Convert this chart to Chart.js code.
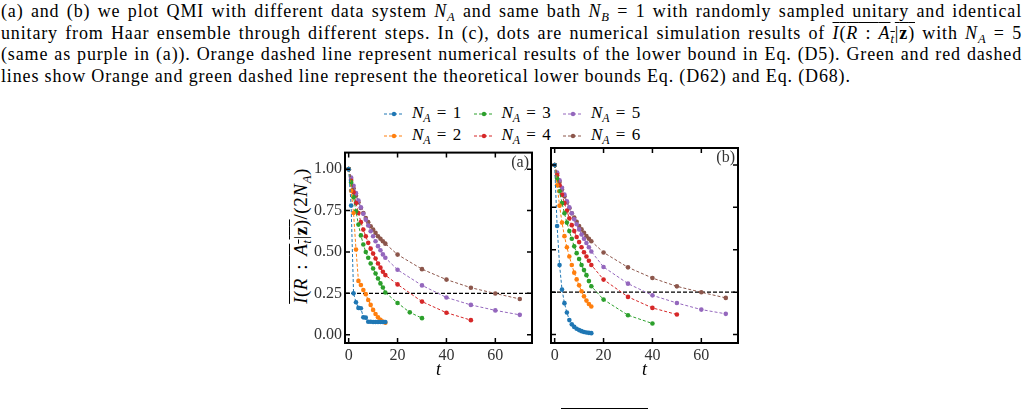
<!DOCTYPE html>
<html>
<head>
<meta charset="utf-8">
<script src="https://cdn.jsdelivr.net/npm/chart.js@4.4.0/dist/chart.umd.min.js"></script>
<style>
  body { margin: 0; background: #fff; width: 1028px; height: 413px; overflow: hidden; position: relative;
         font-family: "Liberation Serif", serif; color: #000; }
  .cap { position: absolute; left: 1px; width: 1021px; font-size: 18px; letter-spacing: 0.85px; line-height: 21.7px;
         text-align: justify; text-align-last: justify; white-space: nowrap; }
  .cap.last { text-align-last: left; }
  sub { font-size: 0.7em; vertical-align: -0.3em; line-height: 0; }
  .ov { text-decoration: overline; }
  canvas { position: absolute; }
  #ylab { position: absolute; left: 301px; top: 236px; transform: translate(-50%, -50%) rotate(-90deg);
          white-space: nowrap; font-size: 19px; word-spacing: 3px; letter-spacing: 0.5px; }
  .leg { position: absolute; font-size: 17px; white-space: nowrap; height: 20px; line-height: 20px; word-spacing: 2px; }
  .leg svg { vertical-align: middle; margin-right: 8px; }
  .cut { position: absolute; left: 561px; top: 408px; width: 87px; height: 1px; background: #000; }
</style>
</head>
<body>
<div class="cap" style="top:1px">(a) and (b) we plot QMI with different data system <i>N<sub>A</sub></i> and same bath <i>N<sub>B</sub></i> = 1 with randomly sampled unitary and identical</div>
<div class="cap" style="top:22.7px">unitary from Haar ensemble through different steps. In (c), dots are numerical simulation results of <span class="ov"><i>I</i>(<i>R</i> : <i>A<sub>t</sub></i>|<b>z</b>)</span> with <i>N<sub>A</sub></i> = 5</div>
<div class="cap" style="top:44.4px">(same as purple in (a)). Orange dashed line represent numerical results of the lower bound in Eq. (D5). Green and red dashed</div>
<div class="cap last" style="top:66.1px">lines show Orange and green dashed line represent the theoretical lower bounds Eq. (D62) and Eq. (D68).</div>

<div id="legend"></div>
<div id="ylab"><span class="ov"><i>I</i>(<i>R</i> : <i>A<sub>t</sub></i>|<b>z</b>)</span>/(2<i>N<sub>A</sub></i>)</div>

<canvas id="chartA" width="270" height="245" style="left:270px;top:140px"></canvas>
<canvas id="chartB" width="200" height="245" style="left:545px;top:140px"></canvas>
<div class="cut"></div>

<script>
// time steps
const tShort = [0, 1, 2, 3, 4, 5, 6, 7, 8, 9, 10, 11, 12, 13, 14, 15];
const tTailA3 = [20, 25, 30];
const tTailB3 = [20, 30, 40];
const tTail4 = [20, 30, 40, 50];
const tTail56 = [20, 30, 40, 50, 60, 70];

// (a) randomly sampled unitary
const qmiA1 = [1.0, 0.78, 0.25, 0.196, 0.162, 0.16, 0.105, 0.103, 0.078, 0.078, 0.077, 0.077, 0.077, 0.077, 0.077, 0.077];
const qmiA2 = [1.0, 0.87, 0.735, 0.515, 0.325, 0.3, 0.27, 0.245, 0.21, 0.18, 0.15, 0.125, 0.105, 0.09, 0.08, 0.072];
const qmiA3 = [1.0, 0.92, 0.83, 0.745, 0.665, 0.6, 0.545, 0.5, 0.465, 0.43, 0.4, 0.37, 0.34, 0.31, 0.285, 0.255, 0.192, 0.135, 0.1];
const qmiA4 = [1.0, 0.93, 0.86, 0.795, 0.735, 0.68, 0.635, 0.595, 0.555, 0.52, 0.49, 0.46, 0.43, 0.405, 0.38, 0.36, 0.304, 0.2, 0.133, 0.088];
const qmiA5 = [1.0, 0.95, 0.9, 0.855, 0.81, 0.77, 0.73, 0.695, 0.66, 0.625, 0.595, 0.565, 0.535, 0.51, 0.485, 0.465, 0.392, 0.298, 0.225, 0.18, 0.147, 0.12];
const qmiA6 = [1.0, 0.94, 0.885, 0.84, 0.8, 0.765, 0.735, 0.705, 0.68, 0.655, 0.635, 0.615, 0.595, 0.58, 0.565, 0.55, 0.484, 0.396, 0.333, 0.284, 0.249, 0.216];

// (b) identical unitary
const qmiB1 = [1.0, 0.64, 0.41, 0.265, 0.185, 0.13, 0.085, 0.06, 0.045, 0.034, 0.026, 0.02, 0.015, 0.012, 0.01, 0.008];
const qmiB2 = [1.0, 0.88, 0.76, 0.66, 0.58, 0.515, 0.46, 0.41, 0.365, 0.325, 0.29, 0.255, 0.225, 0.2, 0.18, 0.165];
const qmiB3 = [1.0, 0.92, 0.845, 0.775, 0.715, 0.66, 0.61, 0.565, 0.52, 0.48, 0.445, 0.41, 0.38, 0.35, 0.315, 0.285, 0.206, 0.114, 0.065];
const qmiB4 = [1.0, 0.94, 0.88, 0.825, 0.775, 0.73, 0.685, 0.645, 0.61, 0.575, 0.545, 0.515, 0.485, 0.46, 0.435, 0.41, 0.324, 0.222, 0.157, 0.118];
const qmiB5 = [1.0, 0.955, 0.91, 0.865, 0.825, 0.785, 0.75, 0.715, 0.68, 0.65, 0.62, 0.59, 0.565, 0.54, 0.515, 0.49, 0.398, 0.3, 0.231, 0.186, 0.147, 0.122];
const qmiB6 = [1.0, 0.95, 0.9, 0.855, 0.815, 0.78, 0.745, 0.715, 0.69, 0.665, 0.64, 0.62, 0.6, 0.58, 0.565, 0.55, 0.484, 0.396, 0.333, 0.284, 0.249, 0.216];

const nA = [1, 2, 3, 4, 5, 6];
const colors = ["#1f77b4", "#ff7f0e", "#2ca02c", "#d62728", "#9467bd", "#8c564b"];
const xTicks = [0, 20, 40, 60];
const yTicks = [0, 0.25, 0.5, 0.75, 1.0];
const bound = 0.25;
const xMin = -1.5, xMax = 75, yMin = -0.05, yMax = 1.1;

const timesA = [tShort, tShort, tShort.concat(tTailA3), tShort.concat(tTail4), tShort.concat(tTail56), tShort.concat(tTail56)];
const timesB = [tShort, tShort, tShort.concat(tTailB3), tShort.concat(tTail4), tShort.concat(tTail56), tShort.concat(tTail56)];
const valsA = [qmiA1, qmiA2, qmiA3, qmiA4, qmiA5, qmiA6];
const valsB = [qmiB1, qmiB2, qmiB3, qmiB4, qmiB5, qmiB6];

// frame with inward ticks on all sides + panel tag
const framePlugin = {
  id: "frame",
  afterDatasetsDraw(chart, args, opts) {
    const { ctx, chartArea: a, scales: { x, y } } = chart;
    const tl = 5;
    ctx.save();
    ctx.strokeStyle = "#000";
    ctx.lineWidth = 1.5;
    ctx.beginPath();
    xTicks.forEach((v) => {
      const px = x.getPixelForValue(v);
      ctx.moveTo(px, a.bottom); ctx.lineTo(px, a.bottom - tl);
      ctx.moveTo(px, a.top); ctx.lineTo(px, a.top + tl);
    });
    yTicks.forEach((v) => {
      const py = y.getPixelForValue(v);
      ctx.moveTo(a.left, py); ctx.lineTo(a.left + tl, py);
      ctx.moveTo(a.right, py); ctx.lineTo(a.right - tl, py);
    });
    ctx.stroke();
    ctx.lineWidth = 2;
    ctx.strokeRect(a.left, a.top, a.right - a.left, a.bottom - a.top);
    ctx.fillStyle = "#333";
    ctx.font = '16px "Liberation Serif"';
    ctx.textAlign = "right";
    ctx.textBaseline = "top";
    ctx.fillText(opts.tag, a.right - 3, a.top + 2);
    ctx.restore();
  },
};

function makePanel(id, times, vals, tag, axisWidth, pad, showY) {
  const datasets = vals.map((v, i) => ({
    label: "N_A = " + nA[i],
    data: v.map((q, j) => ({ x: times[i][j], y: q })),
    borderColor: colors[i],
    backgroundColor: colors[i],
    pointBackgroundColor: colors[i],
    pointBorderWidth: 0,
    pointRadius: 2.3,
    borderWidth: 1,
    borderDash: [3, 2],
    tension: 0,
  }));
  datasets.push({
    label: "bound",
    data: [{ x: xMin, y: bound }, { x: xMax, y: bound }],
    borderColor: "#000",
    borderWidth: 1.2,
    borderDash: [4, 2],
    pointRadius: 0,
  });
  return new Chart(document.getElementById(id), {
    type: "line",
    data: { datasets },
    plugins: [framePlugin],
    options: {
      responsive: false,
      animation: false,
      events: [],
      layout: { padding: pad },
      plugins: { legend: { display: false }, tooltip: { enabled: false }, frame: { tag } },
      scales: {
        x: {
          type: "linear", min: xMin, max: xMax,
          afterBuildTicks: (s) => { s.ticks = xTicks.map((v) => ({ value: v })); },
          afterFit: (s) => { s.height = 42; },
          grid: { display: false, drawTicks: false },
          border: { display: false },
          ticks: { color: "#333", padding: 3, font: { family: "Liberation Serif", size: 16 } },
          title: { display: true, text: "t", color: "#000", padding: { top: 0, bottom: 4 },
                   font: { family: "Liberation Serif", size: 18, style: "italic" } },
        },
        y: {
          type: "linear", min: yMin, max: yMax,
          afterBuildTicks: (s) => { s.ticks = yTicks.map((v) => ({ value: v })); },
          afterFit: (s) => { s.width = axisWidth; },
          grid: { display: false, drawTicks: false },
          border: { display: false },
          ticks: { display: showY, color: "#333", padding: 3, font: { family: "Liberation Serif", size: 16 },
                   callback: (v) => Number(v).toFixed(2) },
        },
      },
    },
  });
}

makePanel("chartA", timesA, valsA, "(a)", 75, { top: 8, right: 8, left: 0, bottom: 0 }, true);
makePanel("chartB", timesB, valsB, "(b)", 6, { top: 8, right: 7, left: 0, bottom: 0 }, false);

// legend: 3 columns, 2 rows (N_A = 1,3,5 on top)
const legend = document.getElementById("legend");
nA.forEach((n, i) => {
  const col = Math.floor(i / 2), row = i % 2;
  const el = document.createElement("div");
  el.className = "leg";
  el.style.left = (384 + col * 89.5) + "px";
  el.style.top = (103 + row * 21.5) + "px";
  el.innerHTML =
    '<svg width="20" height="8"><line x1="0" y1="4" x2="20" y2="4" stroke="' + colors[i] +
    '" stroke-width="1" stroke-dasharray="3,2"/><circle cx="10" cy="4" r="2.2" fill="' + colors[i] + '"/></svg>' +
    "<i>N<sub>A</sub></i> = " + n;
  legend.appendChild(el);
});
</script>
</body>
</html>
